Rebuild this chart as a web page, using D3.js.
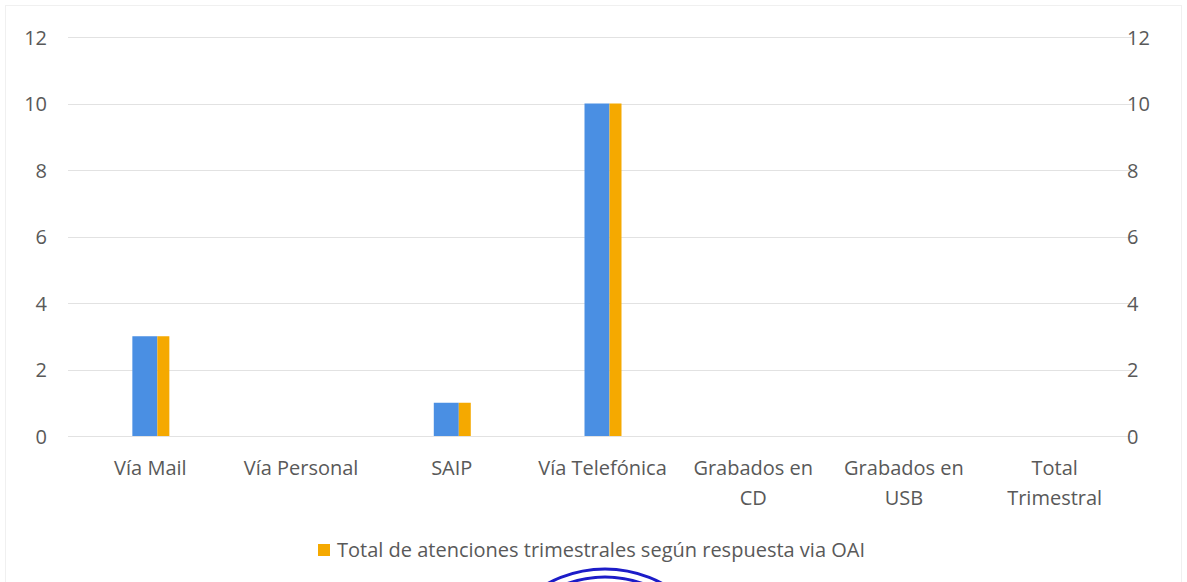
<!DOCTYPE html>
<html>
<head>
<meta charset="utf-8">
<script src="https://cdn.jsdelivr.net/npm/d3@7"></script>
<style>
  body { margin: 0; background: #fff; }
  svg { display: block; }
  text { font-family: "Open Sans", sans-serif; fill: #595959; }
</style>
</head>
<body>
<svg id="chart"></svg>
<script>
// categories and values
var categories = ["Vía Mail", "Vía Personal", "SAIP", "Vía Telefónica", "Grabados en CD", "Grabados en USB", "Total Trimestral"];
var catLines = [["Vía Mail"], ["Vía Personal"], ["SAIP"], ["Vía Telefónica"], ["Grabados en", "CD"], ["Grabados en", "USB"], ["Total", "Trimestral"]];
var serieAzul = [3, 0, 1, 10, 0, 0, 0];      // secondary axis, no legend entry
var serieNaranja = [3, 0, 1, 10, 0, 0, 0];
var yTicks = [0, 2, 4, 6, 8, 10, 12];
var legendLabel = "Total de atenciones trimestrales según respuesta via OAI";

var width = 1187, height = 582;
var svg = d3.select("#chart").attr("width", width).attr("height", height);

// faint page border from the scan
svg.append("rect")
  .attr("x", 5.5).attr("y", 5.5)
  .attr("width", width - 11).attr("height", height + 20)
  .attr("fill", "none").attr("stroke", "#f0f0f0");

//--------------------scales---------------
var x = d3.scaleBand()
  .domain(categories)
  .range([75, 1130]);

var y = d3.scaleLinear().domain([0, 12]).range([436, 37]);
var y2 = d3.scaleLinear().domain([0, 12]).range([436, 37]);

//--------------------grid lines---------------
svg.append("g")
  .selectAll("line")
  .data(yTicks)
  .enter().append("line")
  .attr("x1", 68).attr("x2", 1132)
  .attr("y1", d => Math.round(y(d)) + 0.5)
  .attr("y2", d => Math.round(y(d)) + 0.5)
  .attr("stroke", "#e2e2e2")
  .attr("stroke-width", 1);

//--------------------axes labels---------------
var yLeft = svg.append("g")
  .attr("transform", "translate(47,0)")
  .call(d3.axisLeft(y).tickValues(yTicks).tickSize(0).tickPadding(0));
var yRight = svg.append("g")
  .attr("transform", "translate(1127,0)")
  .call(d3.axisRight(y2).tickValues(yTicks).tickSize(0).tickPadding(0));
[yLeft, yRight].forEach(function(g) {
  g.select(".domain").remove();
  g.selectAll("text")
    .style("font-size", "20px")
    .style("font-family", "'Open Sans', sans-serif")
    .style("fill", "#595959")
    .attr("dy", "0.35em");
});

// category labels (wrapped like the original)
var xLab = svg.append("g")
  .selectAll("text")
  .data(categories)
  .enter().append("text")
  .attr("text-anchor", "middle")
  .style("font-size", "20px")
  .attr("x", d => x(d) + x.bandwidth() / 2)
  .attr("y", 475);
xLab.each(function(d, i) {
  var t = d3.select(this);
  catLines[i].forEach(function(line, k) {
    t.append("tspan")
      .attr("x", x(d) + x.bandwidth() / 2)
      .attr("dy", k == 0 ? 0 : 30)
      .text(line);
  });
});

//--------------------bars---------------
var blueW = 25, orangeW = 12;
svg.append("g")
  .selectAll("rect")
  .data(categories)
  .enter().append("rect")
  .attr("x", d => x(d) + x.bandwidth() / 2 - 18)
  .attr("width", blueW)
  .attr("y", (d, i) => y2(serieAzul[i]))
  .attr("height", (d, i) => y2(0) - y2(serieAzul[i]))
  .attr("fill", "#4a8fe3");

svg.append("g")
  .selectAll("rect")
  .data(categories)
  .enter().append("rect")
  .attr("x", d => x(d) + x.bandwidth() / 2 - 18 + blueW)
  .attr("width", orangeW)
  .attr("y", (d, i) => y(serieNaranja[i]))
  .attr("height", (d, i) => y(0) - y(serieNaranja[i]))
  .attr("fill", "#f5a900");

//--------------------legend---------------
var legend = svg.append("g").attr("transform", "translate(318,544)");
legend.append("rect")
  .attr("width", 12).attr("height", 12)
  .attr("fill", "#f5a900");
legend.append("text")
  .attr("x", 19).attr("y", 13)
  .style("font-size", "20px")
  .text(legendLabel);

//--------------------stamp edge at bottom---------------
var stamp = svg.append("g");
[120, 112].forEach(function(r) {
  stamp.append("circle")
    .attr("cx", 605).attr("cy", 689).attr("r", r)
    .attr("fill", "none")
    .attr("stroke", "#1c1cc8")
    .attr("stroke-width", 3);
});
</script>
</body>
</html>
